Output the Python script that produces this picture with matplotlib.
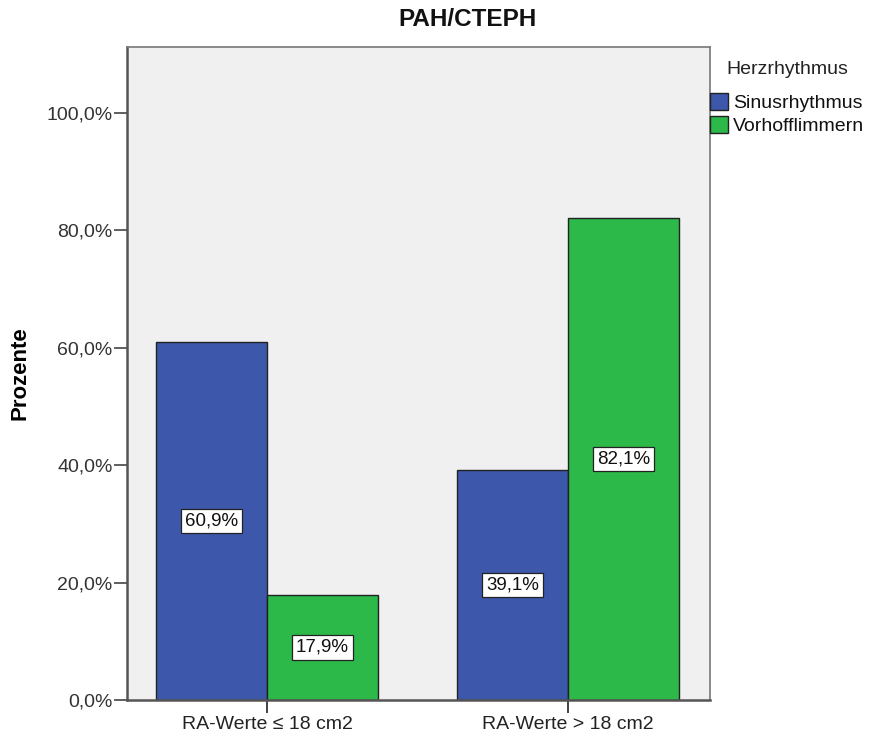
import numpy as np
import matplotlib
matplotlib.use("Agg")
import matplotlib.pyplot as plt
from matplotlib.patches import Patch

plt.rcParams["font.family"] = ["Liberation Sans", "DejaVu Sans"]

categories = ["RA-Werte \u2264 18 cm2", "RA-Werte > 18 cm2"]
series_names = ["Sinusrhythmus", "Vorhofflimmern"]
sinus = [60.9, 39.1]
vorhof = [17.9, 82.1]
y_ticks = [0, 20, 40, 60, 80, 100]

blue = "#3D57AA"
green = "#2DB84A"

fig = plt.figure(figsize=(8.71, 7.39), dpi=100)
ax = fig.add_axes([0.1458, 0.0528, 0.6694, 0.8836])
ax.set_facecolor("#F0F0F0")

x = np.arange(len(categories))
width = 0.369

for vals, color, offset in [(sinus, blue, -width / 2), (vorhof, green, width / 2)]:
    bars = ax.bar(x + offset, vals, width, color=color, edgecolor="#222222", linewidth=1.0)
    for rect, v in zip(bars, vals):
        ax.text(rect.get_x() + rect.get_width() / 2, v / 2,
                f"{v:.1f}%".replace(".", ","),
                ha="center", va="center", fontsize=13.5, color="#111111",
                bbox=dict(boxstyle="square,pad=0.2", facecolor="white",
                          edgecolor="#222222", linewidth=0.9))

ax.set_xlim(-0.465, 1.472)
ax.set_ylim(0, 111.2)
ax.set_xticks(x)
ax.set_xticklabels(categories, fontsize=14, color="#222222")
ax.set_yticks(y_ticks)
ax.set_yticklabels([f"{t:.1f}%".replace(".", ",") for t in y_ticks], fontsize=14, color="#333333")
ax.tick_params(axis="y", length=9.5, width=1.2, color="#444444", pad=1)
ax.tick_params(axis="x", length=9.5, width=1.2, color="#222222", pad=2)

for side in ["left", "bottom"]:
    ax.spines[side].set_color("#555555")
    ax.spines[side].set_linewidth(1.8)
for side in ["top", "right"]:
    ax.spines[side].set_color("#777777")
    ax.spines[side].set_linewidth(1.2)

ax.set_ylabel("Prozente", fontsize=16, fontweight="bold")
ax.yaxis.set_label_coords(-0.165, 0.5)
fig.text(0.537, 0.974, "PAH/CTEPH", ha="center", va="center",
         fontsize=17.5, fontweight="bold", color="#111111")

handles = [Patch(facecolor=blue, edgecolor="#222222", label=series_names[0]),
           Patch(facecolor=green, edgecolor="#222222", label=series_names[1])]
leg = fig.legend(handles=handles, title="Herzrhythmus", loc="upper left",
                 bbox_to_anchor=(710 / 871, 1 - 61 / 739), frameon=False, fontsize=14,
                 title_fontsize=14, handlelength=0.93, handleheight=0.95,
                 handletextpad=0.25, labelspacing=0.2, borderpad=0.0,
                 borderaxespad=0.0)
# extra room between the legend title and its entries
leg._legend_box.sep = 11
leg.get_title().set_color("#222222")
for t in leg.get_texts():
    t.set_color("#111111")

fig.savefig("out.png", dpi=100)
